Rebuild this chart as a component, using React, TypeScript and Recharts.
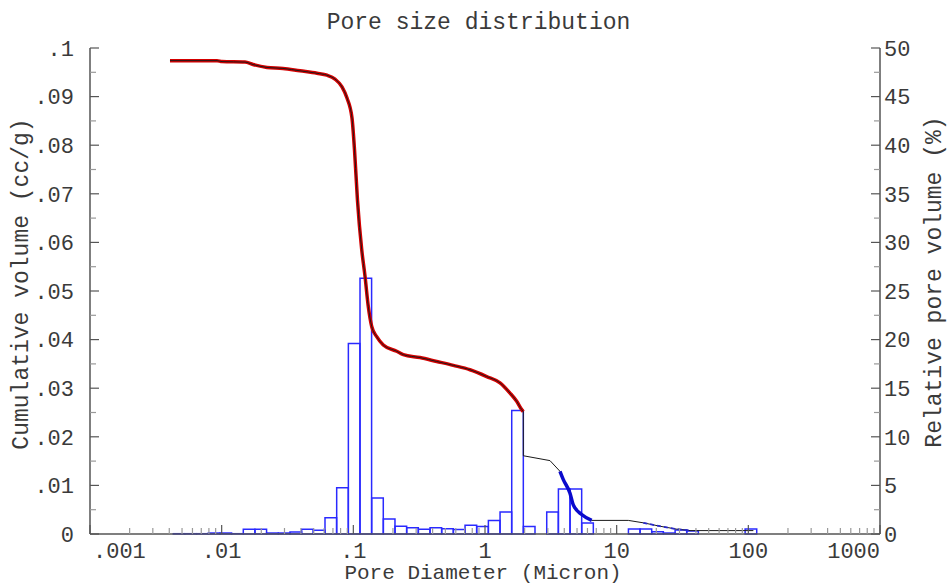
import React from 'react'
import { ComposedChart, Bar, Line, XAxis, YAxis } from 'recharts'

const FONT = '"Liberation Mono", "DejaVu Sans Mono", monospace'
const TEXT = '#3a3a3a'
const AXIS = '#555'
const MINOR = '#999'

// x axis (log, microns)
const xMajorTicks = [0.001, 0.01, 0.1, 1, 10, 100, 1000]
const xTickLabels = ['.001', '.01', '.1', '1', '10', '100', '1000']
const xMinorSteps = [2, 3, 4, 5, 6, 7, 8, 9]

// left axis (cc/g)
const volumeTicks = [0, 0.01, 0.02, 0.03, 0.04, 0.05, 0.06, 0.07, 0.08, 0.09, 0.1]
const volumeTickLabels = ['0', '.01', '.02', '.03', '.04', '.05', '.06', '.07', '.08', '.09', '.1']

// right axis (%)
const percentTicks = [0, 5, 10, 15, 20, 25, 30, 35, 40, 45, 50]

// histogram bins: centre diameter (micron) and relative pore volume (%)
const binDiameter = [
  0.004751, 0.005826, 0.007145, 0.008764, 0.01075, 0.01318, 0.01616, 0.01982, 0.02431, 0.02982,
  0.03657, 0.04485, 0.055, 0.06745, 0.08274, 0.1015, 0.1244, 0.1526, 0.1872, 0.2296,
  0.2815, 0.3453, 0.4234, 0.5193, 0.6368, 0.781, 0.9577, 1.1746, 1.4405, 1.7666,
  2.1668, 2.6574, 3.2584, 3.9966, 4.901, 6.0087, 7.3723, 9.0401, 11.087, 13.6,
  16.678, 20.448, 25.081, 30.761, 37.721, 46.275, 56.748, 69.587, 85.355, 104.66,
]
const binPercent = [
  0.03, 0.03, 0.03, 0.1, 0.1, 0.03, 0.48, 0.48, 0.1, 0.1,
  0.2, 0.48, 0.38, 1.68, 4.77, 19.6, 26.3, 3.7, 1.55, 0.79,
  0.65, 0.48, 0.65, 0.55, 0.47, 0.9, 0.78, 1.4, 2.26, 12.7,
  0.78, 0, 2.26, 4.63, 4.63, 1.13, 0, 0, 0, 0.51,
  0.51, 0.22, 0.1, 0.4, 0.32, 0, 0, 0, 0, 0.51,
]

// cumulative intrusion curve
const poreDiameter = [
  0.00405, 0.00922, 0.01006, 0.01503, 0.01729, 0.0221, 0.02922, 0.03935, 0.05297, 0.0631,
  0.07256, 0.08202, 0.08952, 0.09768, 0.1021, 0.1075, 0.1158, 0.1227, 0.1299, 0.1379,
  0.1505, 0.1689, 0.2135, 0.2396, 0.3208, 0.4297, 0.5743, 0.7691, 1.03, 1.3,
  1.548, 1.741, 1.9, 1.954, 1.956, 3.116, 3.711, 3.934, 4.421, 4.683,
  5.425, 6.463, 12.26, 15.93, 21.33, 28.56, 36.06, 109.2,
]
const cumulativeVolume = [
  0.0974, 0.0974, 0.0972, 0.0971, 0.0966, 0.096, 0.0958, 0.0953, 0.0948, 0.0944,
  0.0936, 0.092, 0.0897, 0.0856, 0.079, 0.0687, 0.0585, 0.053, 0.0468, 0.0427,
  0.0406, 0.0389, 0.0376, 0.0369, 0.0363, 0.0355, 0.0347, 0.0338, 0.0324, 0.0311,
  0.029, 0.0273, 0.0256, 0.0252, 0.0161, 0.0151, 0.0129, 0.0112, 0.0084, 0.006,
  0.004, 0.0028, 0.0028, 0.0023, 0.0016, 0.001, 0.0007, 0.0007,
]

const bins = binDiameter.map((d, i) => ({ d, p: binPercent[i] }))
const curve = poreDiameter.map((d, i) => ({ d, v: cumulativeVolume[i] }))
const redPart = curve.filter(pt => pt.d < 1.955)
const afterDrop = curve.filter(pt => pt.d >= 1.953)
const bluePart = curve.filter(pt => pt.d >= 3.7 && pt.d <= 6.5)
const blueTail = curve.filter(pt => pt.d >= 15 && pt.d <= 37)

const xMinorTicks = xMajorTicks.slice(0, -1).flatMap(t => xMinorSteps.map(m => t * m))
const xAllTicks = [...xMajorTicks, ...xMinorTicks].sort((a, b) => a - b)
const volumeMinor = volumeTicks.slice(1).map(t => t - 0.005)
const volumeAllTicks = [...volumeTicks, ...volumeMinor].sort((a, b) => a - b)
const percentMinor = percentTicks.slice(1).map(t => t - 2.5)
const percentAllTicks = [...percentTicks, ...percentMinor].sort((a, b) => a - b)

const labelStyle = { fontFamily: FONT, fontSize: 22, fill: TEXT }

function BottomTick({ x, y, payload }: any) {
  const idx = xMajorTicks.indexOf(payload.value)
  const major = idx >= 0
  let anchor: 'start' | 'middle' | 'end' = 'middle'
  let tx = x
  if (idx === 0) { anchor = 'start'; tx = x + 3 }
  if (idx === xMajorTicks.length - 1) { anchor = 'end'; tx = x }
  return (
    <g>
      <line x1={x} x2={x} y1={y} y2={y - (major ? 9 : 6)} stroke={major ? AXIS : MINOR} strokeWidth={1.2} />
      {major && (
        <text x={tx} y={y + 16} dy="0.35em" textAnchor={anchor} {...labelStyle}>
          {xTickLabels[idx]}
        </text>
      )}
    </g>
  )
}

function TopTick({ x, y, payload }: any) {
  const major = xMajorTicks.indexOf(payload.value) >= 0
  return <line x1={x} x2={x} y1={y} y2={y + (major ? 9 : 6)} stroke={major ? AXIS : MINOR} strokeWidth={1.2} />
}

function LeftTick({ x, y, payload }: any) {
  const idx = volumeTicks.indexOf(payload.value)
  const major = idx >= 0
  return (
    <g>
      <line x1={x} x2={x + (major ? 9 : 6)} y1={y} y2={y} stroke={major ? AXIS : MINOR} strokeWidth={1.2} />
      {major && (
        <text x={x - 16} y={y} dy="0.35em" textAnchor="end" {...labelStyle}>
          {volumeTickLabels[idx]}
        </text>
      )}
    </g>
  )
}

function RightTick({ x, y, payload }: any) {
  const major = percentTicks.indexOf(payload.value) >= 0
  return (
    <g>
      <line x1={x} x2={x - (major ? 9 : 6)} y1={y} y2={y} stroke={major ? AXIS : MINOR} strokeWidth={1.2} />
      {major && (
        <text x={x + 4} y={y} dy="0.35em" textAnchor="start" {...labelStyle}>
          {payload.value}
        </text>
      )}
    </g>
  )
}

const titleStyle = { fontFamily: FONT, fontSize: 23, fill: TEXT }

const leftTitle = ({ viewBox }: any) => {
  const cx = viewBox.x + 20
  const cy = viewBox.y + viewBox.height / 2 - 7
  return (
    <text x={cx} y={cy} dy="0.35em" textAnchor="middle" transform={`rotate(-90 ${cx} ${cy})`} {...titleStyle}>
      Cumulative volume (cc/g)
    </text>
  )
}

const rightTitle = ({ viewBox }: any) => {
  const cx = viewBox.x + 53
  const cy = viewBox.y + viewBox.height / 2 - 9
  return (
    <text x={cx} y={cy} dy="0.35em" textAnchor="middle" transform={`rotate(-90 ${cx} ${cy})`} {...titleStyle}>
      Relative pore volume (%)
    </text>
  )
}

const bottomTitle = ({ viewBox }: any) => (
  <text
    x={viewBox.x + viewBox.width / 2 - 2}
    y={viewBox.y + 38}
    dy="0.35em"
    textAnchor="middle"
    {...titleStyle}
    fontSize={21}
  >
    Pore Diameter (Micron)
  </text>
)

const lineCommon = {
  xAxisId: 'main',
  yAxisId: 'left',
  dataKey: 'v',
  dot: false,
  activeDot: false,
  isAnimationActive: false,
} as const

export default function App() {
  return (
    <div style={{ position: 'absolute', left: 0, top: 0, width: 948, height: 585, background: '#fff' }}>
      <div
        style={{
          position: 'absolute', left: 0, top: 12, width: 948, paddingLeft: 9, boxSizing: 'border-box',
          textAlign: 'center', fontFamily: FONT, fontSize: 23, lineHeight: '23px', color: TEXT,
        }}
      >
        Pore size distribution
      </div>
      <ComposedChart
        width={948}
        height={585}
        data={bins}
        margin={{ top: 48, right: 0, bottom: 0, left: 0 }}
        barCategoryGap={0}
        barGap={0}
      >
        <XAxis
          xAxisId="main"
          dataKey="d"
          type="number"
          scale="log"
          domain={[0.001, 1000]}
          allowDataOverflow
          ticks={xAllTicks}
          interval={0}
          tick={<BottomTick />}
          tickLine={false}
          tickSize={0}
          tickMargin={0}
          height={51}
          axisLine={{ stroke: AXIS, strokeWidth: 1.5 }}
          label={bottomTitle}
        />
        <XAxis
          xAxisId="bins"
          dataKey="d"
          type="number"
          scale="log"
          orientation="top"
          domain={[0.001, 1000]}
          allowDataOverflow
          ticks={xAllTicks}
          interval={0}
          tick={<TopTick />}
          tickLine={false}
          tickSize={0}
          tickMargin={0}
          height={0}
          axisLine={{ stroke: AXIS, strokeWidth: 1.5 }}
        />
        <YAxis
          yAxisId="left"
          type="number"
          domain={[0, 0.1]}
          ticks={volumeAllTicks}
          interval={0}
          tick={<LeftTick />}
          tickLine={false}
          tickSize={0}
          tickMargin={0}
          width={90}
          axisLine={{ stroke: AXIS, strokeWidth: 1.5 }}
          label={leftTitle}
        />
        <YAxis
          yAxisId="right"
          orientation="right"
          type="number"
          domain={[0, 50]}
          ticks={percentAllTicks}
          interval={0}
          tick={<RightTick />}
          tickLine={false}
          tickSize={0}
          tickMargin={0}
          width={68}
          axisLine={{ stroke: AXIS, strokeWidth: 1.5 }}
          label={rightTitle}
        />
        <Bar
          xAxisId="bins"
          yAxisId="right"
          dataKey="p"
          fill="none"
          stroke="#2a2aff"
          strokeWidth={1.5}
          barSize={11.6}
          isAnimationActive={false}
        />
        <Line {...lineCommon} data={redPart} type="monotone" stroke="#d40000" strokeWidth={3.5} />
        <Line {...lineCommon} data={redPart} type="monotone" stroke="#1a1a1a" strokeWidth={1} />
        <Line {...lineCommon} data={afterDrop} type="linear" stroke="#1a1a1a" strokeWidth={1} />
        <Line {...lineCommon} data={bluePart} type="monotone" stroke="#0a0acc" strokeWidth={3.5} />
        <Line {...lineCommon} data={blueTail} type="linear" stroke="#2a2acc" strokeWidth={1.8} strokeDasharray="4 3" />
      </ComposedChart>
    </div>
  )
}
